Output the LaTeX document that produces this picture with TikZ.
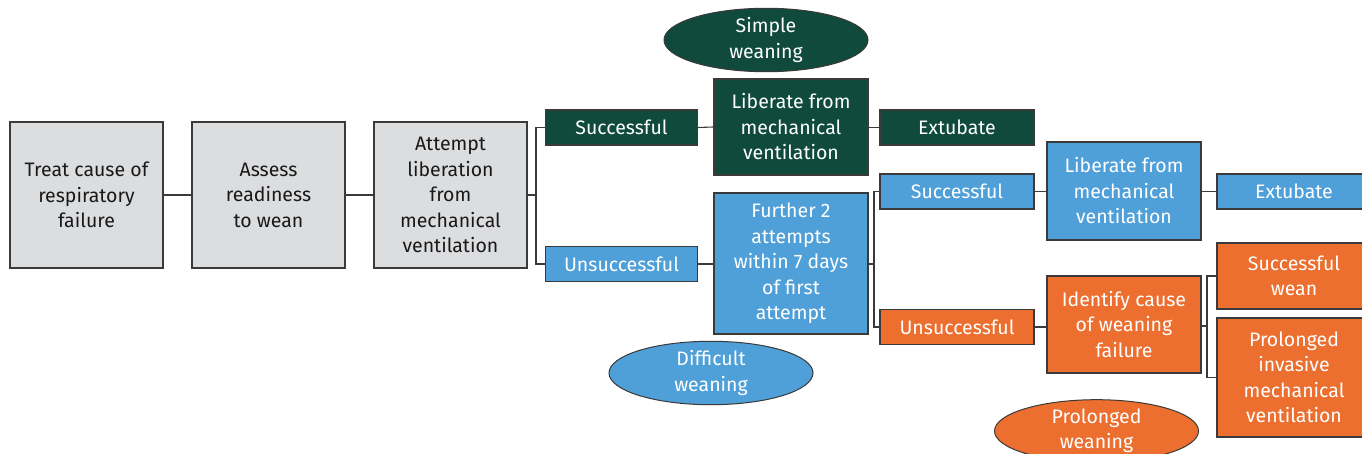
\documentclass[tikz,border=0pt]{standalone}
\usepackage{fontspec}
\setmainfont{Fira Sans}
\usetikzlibrary{shapes.geometric}
\definecolor{cgreen}{HTML}{0F4A3D}
\definecolor{cblue}{HTML}{4F9FD8}
\definecolor{corange}{HTML}{EC6F30}
\definecolor{cgray}{HTML}{DCDDDF}
\definecolor{cline}{HTML}{3A3A3A}
\begin{document}
\begin{tikzpicture}[x=1pt,y=-1pt,
  box/.style={draw=cline,line width=1.1pt,inner sep=0pt,align=center,
    font=\fontsize{19.5}{25.5}\selectfont},
  graybox/.style={box,fill=cgray,text=black!90,minimum width=153pt,minimum height=146pt},
  gbox/.style={box,fill=cgreen,text=white},
  bbox/.style={box,fill=cblue,text=white},
  obox/.style={box,fill=corange,text=white},
  pill/.style={minimum width=152pt,minimum height=35pt},
  mid/.style={minimum width=154pt},
  oval/.style={ellipse,draw=cline,line width=1pt,inner sep=0pt,align=center,text=white,
    minimum width=204pt,minimum height=58pt,font=\fontsize{19.5}{25.5}\selectfont},
  conn/.style={draw=cline,line width=1.1pt}]
\useasboundingbox (0,0) rectangle (1362,454);
\clip (0,0) rectangle (1362,454);
\node[graybox] (treat) at (86.5,195) {Treat cause of\\respiratory\\failure};
\node[graybox] (assess) at (268.5,195) {Assess\\readiness\\to wean};
\node[graybox] (attempt) at (450.5,195) {Attempt\\liberation\\from\\mechanical\\ventilation};
\node[gbox,pill] (succ1) at (621.5,127.5) {Successful};
\node[gbox,mid,minimum height=96pt] (lib1) at (791,127) {Liberate from\\mechanical\\ventilation};
\node[gbox,pill,minimum width=154pt] (ext1) at (957,127.5) {Extubate};
\node[oval,fill=cgreen] (simple) at (766,40) {Simple\\weaning};
\node[bbox,pill] (uns1) at (621.5,264) {Unsuccessful};
\node[bbox,mid,minimum height=141pt] (further) at (791,263.5) {Further 2\\attempts\\within 7 days\\of first\\attempt};
\node[oval,fill=cblue] (difficult) at (711,373) {Difficult\\weaning};
\node[bbox,pill,minimum width=154pt] (succ2) at (957,191.5) {Successful};
\node[bbox,mid,minimum height=98pt] (lib2) at (1124,191) {Liberate from\\mechanical\\ventilation};
\node[bbox,pill,minimum width=154pt] (ext2) at (1294,191.5) {Extubate};
\node[obox,pill,minimum width=154pt] (uns2) at (957,327) {Unsuccessful};
\node[obox,mid,minimum height=97pt] (identify) at (1124,324.5) {Identify cause\\of weaning\\failure};
\node[obox,minimum width=154pt,minimum height=66pt] (sw) at (1294,276) {Successful\\wean};
\node[obox,minimum width=154pt,minimum height=119pt] (pimv) at (1294,377.5) {Prolonged\\invasive\\mechanical\\ventilation};
\node[oval,fill=corange,minimum height=60pt] (prolonged) at (1096.5,431) {Prolonged\\weaning};
\coordinate (j1) at (536,195);
\coordinate (j2) at (874,264);
\coordinate (j3) at (1207,326);
\draw[conn] (treat.east) -- (assess.west);
\draw[conn] (assess.east) -- (attempt.west);
\draw[conn] (attempt.east) -- (j1);
\draw[conn] (succ1.west) -| (j1) |- (uns1.west);
\draw[conn] (succ1.east) -- (lib1.west);
\draw[conn] (lib1.east |- ext1.west) -- (ext1.west);
\draw[conn] (uns1.east) -- (further.west |- uns1.east);
\draw[conn] (further.east |- j2) -- (j2);
\draw[conn] (succ2.west) -| (j2) |- (uns2.west);
\draw[conn] (succ2.east) -- (lib2.west |- succ2.east);
\draw[conn] (lib2.east |- ext2.west) -- (ext2.west);
\draw[conn] (uns2.east) -- (identify.west |- uns2.east);
\draw[conn] (identify.east |- j3) -- (j3);
\draw[conn] (sw.west) -| (j3) |- (pimv.west);
\end{tikzpicture}
\end{document}
